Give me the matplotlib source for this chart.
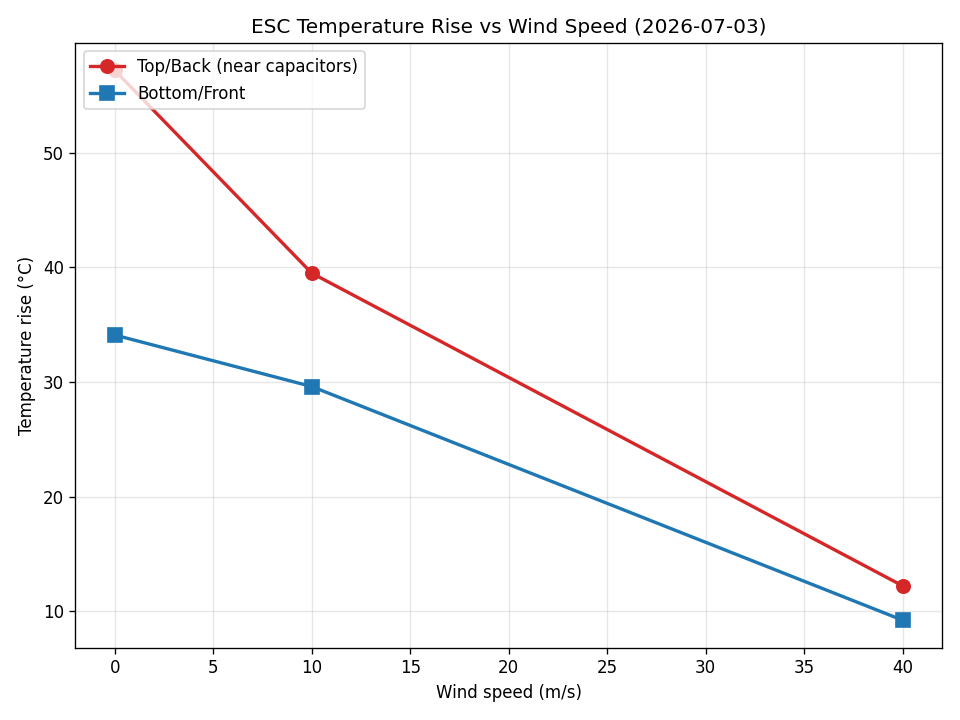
import matplotlib
matplotlib.use("Agg")
import matplotlib.pyplot as plt

wind_speed = [0, 10, 40]
top_back = [57.2, 39.5, 12.2]
bottom_front = [34.1, 29.6, 9.2]

fig, ax = plt.subplots(figsize=(8, 6), dpi=120)

ax.plot(wind_speed, top_back, marker='o', color='#d62728', linewidth=2,
        markersize=8, label='Top/Back (near capacitors)')
ax.plot(wind_speed, bottom_front, marker='s', color='#1f77b4', linewidth=2,
        markersize=8, label='Bottom/Front')

ax.set_title('ESC Temperature Rise vs Wind Speed (2026-07-03)')
ax.set_xlabel('Wind speed (m/s)')
ax.set_ylabel('Temperature rise (°C)')
ax.grid(True, alpha=0.3)
ax.legend(loc='upper left')

plt.tight_layout()
plt.savefig('out.png')
